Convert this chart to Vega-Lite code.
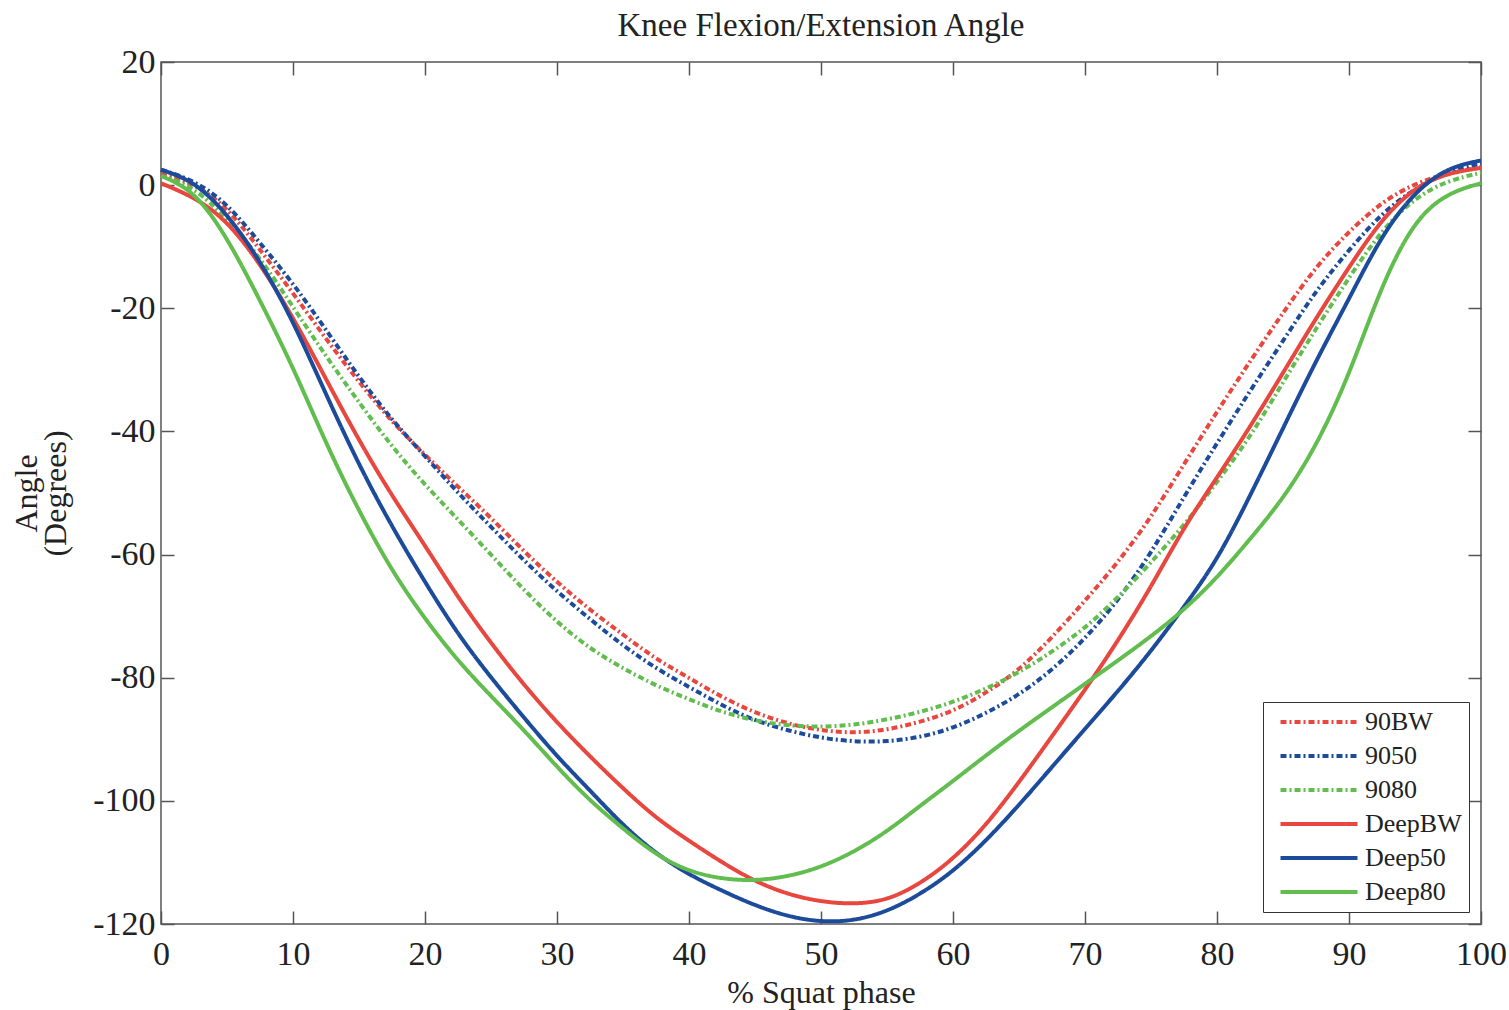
{
  "$schema": "https://vega.github.io/schema/vega-lite/v6.json",
  "width": 1320,
  "height": 862,
  "autosize": {"type": "none"},
  "padding": {"left": 161, "top": 62, "right": 28, "bottom": 86},
  "background": "white",
  "title": {"text": "Knee Flexion/Extension Angle", "font": "Liberation Serif", "fontSize": 33, "fontWeight": "normal", "color": "#222", "offset": 2},
  "config": {
    "view": {"stroke": "#555", "strokeWidth": 1.5},
    "axis": {"labelFont": "Liberation Serif", "titleFont": "Liberation Serif", "labelFontSize": 34, "titleFontSize": 32, "titleFontWeight": "normal", "labelColor": "#222", "titleColor": "#222", "grid": false, "domain": false, "tickColor": "#555", "tickSize": -13, "tickWidth": 1.5},
    "legend": {"orient": "bottom-right", "offset": 12, "fillColor": "white", "strokeColor": "#333", "padding": 7, "labelFont": "Liberation Serif", "labelFontSize": 26, "labelColor": "#222", "symbolType": "M-7.7,0H7.7", "symbolSize": 100, "symbolStrokeWidth": 4, "rowPadding": 8, "symbolOffset": 36, "labelOffset": 33}
  },
  "data": {"values": [
{"s":"90BW","x":0,"y":1.8},{"s":"90BW","x":2.5,"y":0.3},{"s":"90BW","x":5,"y":-3.5},{"s":"90BW","x":7.5,"y":-10.5},{"s":"90BW","x":10,"y":-17.5},{"s":"90BW","x":12.5,"y":-25},{"s":"90BW","x":15,"y":-32},{"s":"90BW","x":17.5,"y":-38.5},{"s":"90BW","x":20,"y":-43.8},{"s":"90BW","x":22.5,"y":-49},{"s":"90BW","x":25,"y":-54},{"s":"90BW","x":27.5,"y":-59.5},{"s":"90BW","x":30,"y":-64.5},{"s":"90BW","x":32.5,"y":-69},{"s":"90BW","x":35,"y":-73},{"s":"90BW","x":37.5,"y":-77},{"s":"90BW","x":40,"y":-80},{"s":"90BW","x":42.5,"y":-83.2},{"s":"90BW","x":45,"y":-85.7},{"s":"90BW","x":47.5,"y":-87.5},{"s":"90BW","x":50,"y":-88.6},{"s":"90BW","x":52.5,"y":-89},{"s":"90BW","x":55,"y":-88.5},{"s":"90BW","x":57.5,"y":-87.2},{"s":"90BW","x":60,"y":-85.5},{"s":"90BW","x":62.5,"y":-82.5},{"s":"90BW","x":65,"y":-78.8},{"s":"90BW","x":67.5,"y":-73.5},{"s":"90BW","x":70,"y":-67.5},{"s":"90BW","x":72.5,"y":-61.3},{"s":"90BW","x":75,"y":-54},{"s":"90BW","x":77.5,"y":-45.3},{"s":"90BW","x":80,"y":-36.8},{"s":"90BW","x":82.5,"y":-28.6},{"s":"90BW","x":85,"y":-20.7},{"s":"90BW","x":87.5,"y":-13.2},{"s":"90BW","x":90,"y":-7.5},{"s":"90BW","x":92.5,"y":-2.7},{"s":"90BW","x":95,"y":0.3},{"s":"90BW","x":97.5,"y":2},{"s":"90BW","x":100,"y":2.9},
{"s":"9050","x":0,"y":2.5},{"s":"9050","x":2.5,"y":0.8},{"s":"9050","x":5,"y":-2.9},{"s":"9050","x":7.5,"y":-9.4},{"s":"9050","x":10,"y":-15.9},{"s":"9050","x":12.5,"y":-23.5},{"s":"9050","x":15,"y":-31.2},{"s":"9050","x":17.5,"y":-38.2},{"s":"9050","x":20,"y":-44},{"s":"9050","x":22.5,"y":-50},{"s":"9050","x":25,"y":-55.5},{"s":"9050","x":27.5,"y":-61},{"s":"9050","x":30,"y":-66},{"s":"9050","x":32.5,"y":-70.5},{"s":"9050","x":35,"y":-74.8},{"s":"9050","x":37.5,"y":-78.5},{"s":"9050","x":40,"y":-81.5},{"s":"9050","x":42.5,"y":-84.5},{"s":"9050","x":45,"y":-87},{"s":"9050","x":47.5,"y":-88.6},{"s":"9050","x":50,"y":-89.8},{"s":"9050","x":52.5,"y":-90.4},{"s":"9050","x":55,"y":-90.4},{"s":"9050","x":57.5,"y":-89.7},{"s":"9050","x":60,"y":-88.2},{"s":"9050","x":62.5,"y":-85.8},{"s":"9050","x":65,"y":-82.8},{"s":"9050","x":67.5,"y":-78.8},{"s":"9050","x":70,"y":-73.7},{"s":"9050","x":72.5,"y":-67.5},{"s":"9050","x":75,"y":-59.8},{"s":"9050","x":77.5,"y":-50.6},{"s":"9050","x":80,"y":-41.9},{"s":"9050","x":82.5,"y":-33.4},{"s":"9050","x":85,"y":-25.3},{"s":"9050","x":87.5,"y":-17.1},{"s":"9050","x":90,"y":-10.5},{"s":"9050","x":92.5,"y":-4.5},{"s":"9050","x":95,"y":-0.5},{"s":"9050","x":97.5,"y":2.2},{"s":"9050","x":100,"y":3.5},
{"s":"9080","x":0,"y":1.5},{"s":"9080","x":2.5,"y":-0.2},{"s":"9080","x":5,"y":-5.5},{"s":"9080","x":7.5,"y":-11.7},{"s":"9080","x":10,"y":-19.8},{"s":"9080","x":12.5,"y":-27.8},{"s":"9080","x":15,"y":-35.3},{"s":"9080","x":17.5,"y":-42.5},{"s":"9080","x":20,"y":-48.7},{"s":"9080","x":22.5,"y":-54.3},{"s":"9080","x":25,"y":-60},{"s":"9080","x":27.5,"y":-65.8},{"s":"9080","x":30,"y":-71},{"s":"9080","x":32.5,"y":-75.3},{"s":"9080","x":35,"y":-78.5},{"s":"9080","x":37.5,"y":-81.3},{"s":"9080","x":40,"y":-83.5},{"s":"9080","x":42.5,"y":-85.6},{"s":"9080","x":45,"y":-87},{"s":"9080","x":47.5,"y":-87.8},{"s":"9080","x":50,"y":-88},{"s":"9080","x":52.5,"y":-87.7},{"s":"9080","x":55,"y":-86.8},{"s":"9080","x":57.5,"y":-85.6},{"s":"9080","x":60,"y":-84},{"s":"9080","x":62.5,"y":-81.8},{"s":"9080","x":65,"y":-79.2},{"s":"9080","x":67.5,"y":-75.8},{"s":"9080","x":70,"y":-72},{"s":"9080","x":72.5,"y":-67},{"s":"9080","x":75,"y":-61.3},{"s":"9080","x":77.5,"y":-55.3},{"s":"9080","x":80,"y":-48.2},{"s":"9080","x":82.5,"y":-41},{"s":"9080","x":85,"y":-32},{"s":"9080","x":87.5,"y":-23.3},{"s":"9080","x":90,"y":-15},{"s":"9080","x":92.5,"y":-7.2},{"s":"9080","x":95,"y":-2},{"s":"9080","x":97.5,"y":0.8},{"s":"9080","x":100,"y":2},
{"s":"DeepBW","x":0,"y":0.3},{"s":"DeepBW","x":2.5,"y":-1.9},{"s":"DeepBW","x":5,"y":-5.7},{"s":"DeepBW","x":7.5,"y":-12.7},{"s":"DeepBW","x":10,"y":-21.4},{"s":"DeepBW","x":12.5,"y":-31.5},{"s":"DeepBW","x":15,"y":-41.5},{"s":"DeepBW","x":17.5,"y":-50.5},{"s":"DeepBW","x":20,"y":-58.5},{"s":"DeepBW","x":22.5,"y":-67},{"s":"DeepBW","x":25,"y":-74.4},{"s":"DeepBW","x":27.5,"y":-81.2},{"s":"DeepBW","x":30,"y":-87.3},{"s":"DeepBW","x":32.5,"y":-92.8},{"s":"DeepBW","x":35,"y":-98},{"s":"DeepBW","x":37.5,"y":-102.8},{"s":"DeepBW","x":40,"y":-106.5},{"s":"DeepBW","x":42.5,"y":-110},{"s":"DeepBW","x":45,"y":-113.1},{"s":"DeepBW","x":47.5,"y":-115.2},{"s":"DeepBW","x":50,"y":-116.4},{"s":"DeepBW","x":52.5,"y":-116.8},{"s":"DeepBW","x":55,"y":-116.2},{"s":"DeepBW","x":57.5,"y":-113.5},{"s":"DeepBW","x":60,"y":-109.5},{"s":"DeepBW","x":62.5,"y":-104},{"s":"DeepBW","x":65,"y":-97},{"s":"DeepBW","x":67.5,"y":-89.5},{"s":"DeepBW","x":70,"y":-82},{"s":"DeepBW","x":72.5,"y":-74},{"s":"DeepBW","x":75,"y":-65.3},{"s":"DeepBW","x":77.5,"y":-55.5},{"s":"DeepBW","x":80,"y":-47.5},{"s":"DeepBW","x":82.5,"y":-39.3},{"s":"DeepBW","x":85,"y":-30.5},{"s":"DeepBW","x":87.5,"y":-21.6},{"s":"DeepBW","x":90,"y":-13.3},{"s":"DeepBW","x":92.5,"y":-5.4},{"s":"DeepBW","x":95,"y":-0.3},{"s":"DeepBW","x":97.5,"y":2},{"s":"DeepBW","x":100,"y":2.8},
{"s":"Deep50","x":0,"y":2.5},{"s":"Deep50","x":2.5,"y":0.7},{"s":"Deep50","x":5,"y":-4.6},{"s":"Deep50","x":7.5,"y":-12.2},{"s":"Deep50","x":10,"y":-22},{"s":"Deep50","x":12.5,"y":-34},{"s":"Deep50","x":15,"y":-45.5},{"s":"Deep50","x":17.5,"y":-55.5},{"s":"Deep50","x":20,"y":-64.5},{"s":"Deep50","x":22.5,"y":-73},{"s":"Deep50","x":25,"y":-80},{"s":"Deep50","x":27.5,"y":-86.5},{"s":"Deep50","x":30,"y":-92.8},{"s":"Deep50","x":32.5,"y":-98.3},{"s":"Deep50","x":35,"y":-104},{"s":"Deep50","x":37.5,"y":-108.6},{"s":"Deep50","x":40,"y":-112},{"s":"Deep50","x":42.5,"y":-114.6},{"s":"Deep50","x":45,"y":-117},{"s":"Deep50","x":47.5,"y":-118.8},{"s":"Deep50","x":50,"y":-119.7},{"s":"Deep50","x":52.5,"y":-119.5},{"s":"Deep50","x":55,"y":-118},{"s":"Deep50","x":57.5,"y":-115.2},{"s":"Deep50","x":60,"y":-111.5},{"s":"Deep50","x":62.5,"y":-106.5},{"s":"Deep50","x":65,"y":-100.7},{"s":"Deep50","x":67.5,"y":-94.5},{"s":"Deep50","x":70,"y":-88.3},{"s":"Deep50","x":72.5,"y":-82.2},{"s":"Deep50","x":75,"y":-75.7},{"s":"Deep50","x":77.5,"y":-68.5},{"s":"Deep50","x":80,"y":-61},{"s":"Deep50","x":82.5,"y":-50.5},{"s":"Deep50","x":85,"y":-39.5},{"s":"Deep50","x":87.5,"y":-28.5},{"s":"Deep50","x":90,"y":-18.5},{"s":"Deep50","x":92.5,"y":-8},{"s":"Deep50","x":95,"y":-1},{"s":"Deep50","x":97.5,"y":2.9},{"s":"Deep50","x":100,"y":4},
{"s":"Deep80","x":0,"y":1.5},{"s":"Deep80","x":2.5,"y":-0.8},{"s":"Deep80","x":5,"y":-8.4},{"s":"Deep80","x":7.5,"y":-18.7},{"s":"Deep80","x":10,"y":-29.5},{"s":"Deep80","x":12.5,"y":-42},{"s":"Deep80","x":15,"y":-53},{"s":"Deep80","x":17.5,"y":-62.7},{"s":"Deep80","x":20,"y":-70.5},{"s":"Deep80","x":22.5,"y":-77.3},{"s":"Deep80","x":25,"y":-83},{"s":"Deep80","x":27.5,"y":-88.5},{"s":"Deep80","x":30,"y":-94.5},{"s":"Deep80","x":32.5,"y":-100},{"s":"Deep80","x":35,"y":-104.5},{"s":"Deep80","x":37.5,"y":-108.8},{"s":"Deep80","x":40,"y":-111.5},{"s":"Deep80","x":42.5,"y":-112.7},{"s":"Deep80","x":45,"y":-113},{"s":"Deep80","x":47.5,"y":-112.3},{"s":"Deep80","x":50,"y":-110.8},{"s":"Deep80","x":52.5,"y":-108.3},{"s":"Deep80","x":55,"y":-105},{"s":"Deep80","x":57.5,"y":-100.8},{"s":"Deep80","x":60,"y":-96.8},{"s":"Deep80","x":62.5,"y":-92.6},{"s":"Deep80","x":65,"y":-88.6},{"s":"Deep80","x":67.5,"y":-84.8},{"s":"Deep80","x":70,"y":-81},{"s":"Deep80","x":72.5,"y":-77.2},{"s":"Deep80","x":75,"y":-73.3},{"s":"Deep80","x":77.5,"y":-69},{"s":"Deep80","x":80,"y":-63.8},{"s":"Deep80","x":82.5,"y":-57.5},{"s":"Deep80","x":85,"y":-51},{"s":"Deep80","x":87.5,"y":-42.5},{"s":"Deep80","x":90,"y":-31},{"s":"Deep80","x":92.5,"y":-16},{"s":"Deep80","x":95,"y":-5.5},{"s":"Deep80","x":97.5,"y":-1.2},{"s":"Deep80","x":100,"y":0.3}
  ]},
  "layer": [
    {
      "mark": {"type": "line", "strokeWidth": 4, "interpolate": "basis"},
      "encoding": {
        "x": {"field": "x", "type": "quantitative", "scale": {"domain": [0, 100], "nice": false, "zero": false},
          "axis": {"orient": "bottom", "values": [0,10,20,30,40,50,60,70,80,90,100], "title": "% Squat phase", "labelPadding": 26, "titlePadding": 6, "labelFlush": false}},
        "y": {"field": "y", "type": "quantitative", "scale": {"domain": [-120, 20], "nice": false, "zero": false},
          "axis": {"orient": "left", "values": [-120,-100,-80,-60,-40,-20,0,20], "labelExpr": "replace(datum.label, '−', '-')", "title": ["Angle", "(Degrees)"], "labelPadding": 19, "titlePadding": 20, "titleLineHeight": 29}},
        "color": {"field": "s", "type": "nominal", "title": null,
          "scale": {"domain": ["90BW","9050","9080","DeepBW","Deep50","Deep80"], "range": ["#e8473f","#1d4b9b","#62bd4f","#e8473f","#1d4b9b","#62bd4f"]}},
        "strokeDash": {"field": "s", "type": "nominal", "title": null,
          "scale": {"domain": ["90BW","9050","9080","DeepBW","Deep50","Deep80"], "range": [[6,3,2,3],[6,3,2,3],[6,3,2,3],[1,0],[1,0],[1,0]]}}
      }
    },
    {
      "mark": {"type": "line", "strokeOpacity": 0},
      "encoding": {
        "x": {"field": "x", "type": "quantitative", "axis": {"orient": "top", "values": [0,10,20,30,40,50,60,70,80,90,100], "labels": false, "title": null}},
        "y": {"field": "y", "type": "quantitative", "axis": {"orient": "right", "values": [-120,-100,-80,-60,-40,-20,0,20], "labels": false, "title": null}}
      }
    }
  ],
  "resolve": {"axis": {"x": "independent", "y": "independent"}}
}
